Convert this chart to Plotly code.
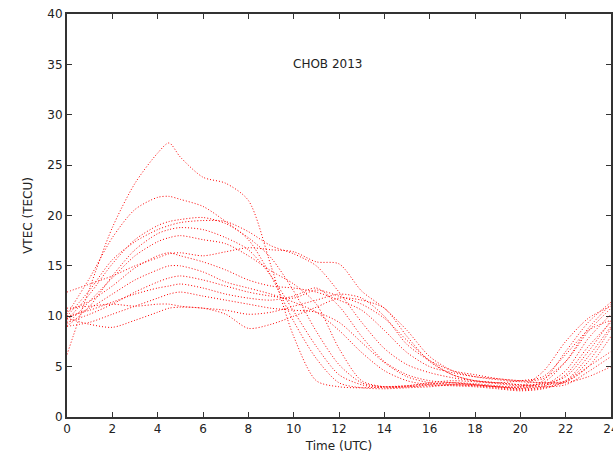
import plotly.graph_objects as go

hours = [0, 1, 2, 3, 4, 4.5, 5, 6, 7, 8, 9, 10, 11, 12, 13, 14, 15, 16, 17, 18, 19, 20, 21, 22, 23, 24]

day01 = [6.2, 12.8, 18.8, 23.2, 26.2, 27.2, 25.8, 23.8, 23.2, 21.5, 15.0, 8.0, 3.6, 3.0, 2.9, 3.0, 3.1, 3.3, 3.4, 3.2, 3.0, 2.9, 3.1, 4.6, 7.8, 10.2]
day02 = [10.2, 13.8, 17.8, 20.6, 21.8, 21.9, 21.6, 20.9, 19.4, 17.6, 14.0, 9.5, 5.8, 3.4, 2.9, 2.8, 2.9, 3.0, 3.2, 3.1, 2.9, 2.7, 2.9, 3.6, 6.0, 9.0]
day03 = [9.6, 12.2, 15.2, 17.6, 19.0, 19.4, 19.6, 19.8, 19.2, 17.8, 15.8, 12.5, 8.5, 5.2, 3.4, 3.0, 3.1, 3.4, 3.6, 3.5, 3.3, 3.1, 3.4, 5.5, 8.8, 11.2]
day04 = [10.0, 12.6, 15.6, 17.4, 18.6, 19.0, 19.3, 19.5, 19.4, 18.4, 17.0, 16.2, 15.0, 12.4, 9.4, 6.8, 5.2, 4.4, 3.9, 3.6, 3.4, 3.2, 3.3, 4.0, 6.5, 9.6]
day05 = [9.2, 11.5, 13.8, 16.0, 17.4, 17.8, 18.0, 17.6, 17.2, 16.0, 14.5, 13.2, 11.2, 6.8, 3.6, 3.0, 3.0, 3.2, 3.4, 3.3, 3.1, 3.0, 4.5, 7.5, 9.8, 11.0]
day06 = [12.4, 13.2, 14.0, 15.0, 15.8, 16.2, 16.3, 16.0, 16.4, 16.8, 16.6, 16.4, 15.4, 15.2, 12.5, 10.8, 8.6, 6.0, 4.6, 4.0, 3.7, 3.5, 3.4, 3.5, 5.0, 8.0]
day07 = [10.5, 11.5, 13.0, 14.8, 16.0, 16.3, 16.0, 15.4, 14.6, 13.6, 13.0, 12.8, 12.4, 11.6, 10.6, 8.6, 6.4, 5.0, 4.4, 4.0, 3.8, 3.6, 3.8, 5.5, 8.5, 10.8]
day08 = [9.8, 10.8, 12.2, 13.6, 14.6, 15.0, 15.0, 14.4, 13.4, 12.8, 12.2, 11.4, 10.4, 8.6, 6.4, 4.6, 3.6, 3.2, 3.1, 3.0, 2.8, 2.6, 2.8, 3.5, 5.0, 6.5]
day09 = [9.4, 10.2, 11.2, 12.4, 13.4, 13.8, 14.0, 13.6, 13.0, 12.4, 12.0, 11.8, 12.6, 12.0, 11.2, 9.8, 7.6, 5.6, 4.2, 3.6, 3.4, 3.2, 3.0, 3.2, 4.5, 6.0]
day10 = [10.0, 10.6, 11.4, 12.2, 12.8, 13.0, 13.2, 12.8, 12.2, 11.8, 11.6, 12.0, 12.8, 11.0, 8.0, 5.5, 4.2, 3.6, 3.4, 3.2, 3.0, 2.8, 3.0, 4.2, 7.0, 9.4]
day11 = [9.0, 9.4, 10.2, 11.0, 11.8, 12.2, 12.4, 12.0, 11.6, 11.2, 10.8, 10.6, 10.4, 9.4, 7.4, 5.4, 4.0, 3.4, 3.2, 3.2, 3.0, 3.0, 3.2, 3.4, 4.0, 5.0]
day12 = [9.8, 9.2, 8.9, 9.6, 10.4, 10.8, 10.9, 10.8, 10.2, 8.8, 9.2, 10.0, 10.9, 11.8, 11.6, 10.8, 8.0, 5.5, 4.2, 3.6, 3.4, 3.6, 4.0, 6.2, 8.6, 9.6]
day13 = [10.8, 11.0, 11.2, 11.0, 11.2, 11.2, 11.0, 10.8, 10.6, 10.2, 10.4, 11.0, 11.6, 12.2, 11.8, 10.0, 7.2, 5.6, 4.6, 4.2, 3.8, 3.6, 3.4, 3.6, 5.5, 8.8]
day14 = [9.0, 11.0, 14.0, 16.6, 18.2, 18.6, 18.8, 18.6, 17.8, 16.6, 14.0, 10.5, 7.0, 4.2, 3.2, 2.9, 3.0, 3.1, 3.2, 3.1, 3.0, 2.8, 3.6, 6.5, 9.4, 11.4]

days = [day01, day02, day03, day04, day05, day06, day07, day08, day09, day10, day11, day12, day13, day14]

x_ticks = [0, 2, 4, 6, 8, 10, 12, 14, 16, 18, 20, 22, 24]
y_ticks = [0, 5, 10, 15, 20, 25, 30, 35, 40]

fig = go.Figure()
for d in days:
    fig.add_trace(go.Scatter(
        x=hours, y=d, mode="lines", line_shape="spline",
        line=dict(color="red", width=1, dash="1px,2px", smoothing=0.8),
        showlegend=False, hoverinfo="skip"))

font = dict(family="DejaVu Sans", size=12, color="#222")
axis_common = dict(showline=True, linecolor="#333", linewidth=2, mirror="ticks",
                   ticks="inside", ticklen=5, tickwidth=1, tickcolor="#333",
                   showgrid=False, zeroline=False, tickfont=font,
                   ticklabeloverflow="allow", automargin=False)

fig.update_layout(
    width=613, height=460,
    margin=dict(l=67, r=2, t=14, b=43),
    plot_bgcolor="white", paper_bgcolor="white",
    font=font,
    xaxis=dict(range=[0, 24], tickvals=x_ticks, title=dict(text="Time (UTC)", font=font, standoff=6), **axis_common),
    yaxis=dict(range=[0, 40], tickvals=y_ticks, title=dict(text="VTEC (TECU)", font=font, standoff=12), **axis_common),
    annotations=[dict(x=11.5, y=35, xref="x", yref="y", text="CHOB 2013",
                      showarrow=False, font=font)],
)

fig.write_html("out.html")
